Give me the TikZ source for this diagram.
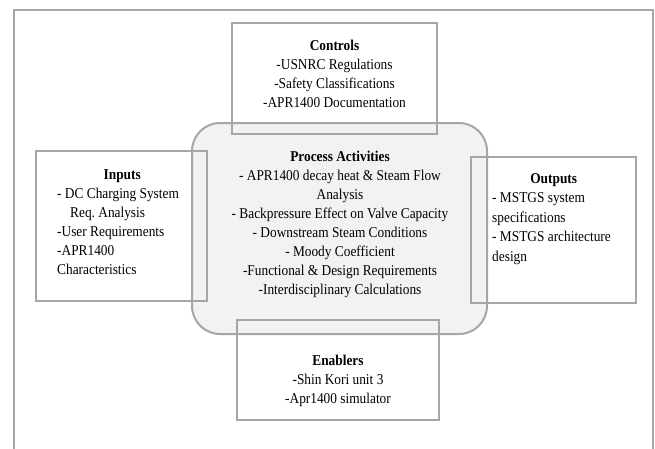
\documentclass[tikz,border=0pt]{standalone}
\usepackage{fontspec}
\setmainfont{Liberation Serif}[FakeStretch=0.89]
\usepackage{xcolor}
\usetikzlibrary{shapes,positioning}
\definecolor{boxgray}{RGB}{166,166,166}
\definecolor{procfill}{RGB}{242,242,242}
\tikzstyle{frame} = [draw=boxgray, line width=1.5pt]
\tikzstyle{block} = [rectangle, draw=boxgray, line width=2pt, inner sep=0pt]
\tikzstyle{process} = [rectangle, draw=boxgray, fill=procfill, line width=2pt,
rounded corners=28pt, inner sep=0pt]
\tikzstyle{txt} = [font=\fontsize{15}{19}\selectfont, inner sep=0pt, align=center]
\tikzstyle{txtleft} = [txt, align=left]

\begin{document}
\begin{tikzpicture}[x=1pt, y=-1pt]
        \useasboundingbox (0,0) rectangle (655,448);
        \draw [frame] (14,10) rectangle (653,470);

        % boxes
        \node [process, minimum width=295pt, minimum height=211pt] (proc) at (339.5,228.5) {};
        \node [block, minimum width=205pt, minimum height=111pt] (ctrl) at (334.5,78.5) {};
        \node [block, minimum width=171pt, minimum height=149.5pt] (inp) at (121.5,226) {};
        \node [block, minimum width=165pt, minimum height=146pt] (outp) at (553.5,230) {};
        \node [block, minimum width=202pt, minimum height=100pt] (enab) at (338,370) {};

        % texts
        \node [txt] (ctrltxt) at (334.5,74) {\textbf{Controls}\\-USNRC Regulations\\
          -Safety Classifications\\-APR1400 Documentation};
        \node [txt] (proctxt) at (340,224) {\textbf{Process Activities}\\
          - APR1400 decay heat \& Steam Flow\\Analysis\\
          - Backpressure Effect on Valve Capacity\\- Downstream Steam Conditions\\
          - Moody Coefficient\\-Functional \& Design Requirements\\
          -Interdisciplinary Calculations};
        \node [txtleft, anchor=west] (inptxt) at (57,222) {\makebox[130pt]{\textbf{Inputs}}\\
          - DC Charging System\\\hspace*{13pt}Req.\ Analysis\\-User Requirements\\
          -APR1400\\Characteristics};
        \node [txtleft, anchor=west, font=\fontsize{15}{19.5}\selectfont] (outptxt) at (492,219)
          {\makebox[123pt]{\textbf{Outputs}}\\- MSTGS system\\specifications\\
          - MSTGS architecture\\design};
        \node [txt] (enabtxt) at (338,380.5) {\textbf{Enablers}\\-Shin Kori unit 3\\
          -Apr1400 simulator};
      \end{tikzpicture}
\end{document}
